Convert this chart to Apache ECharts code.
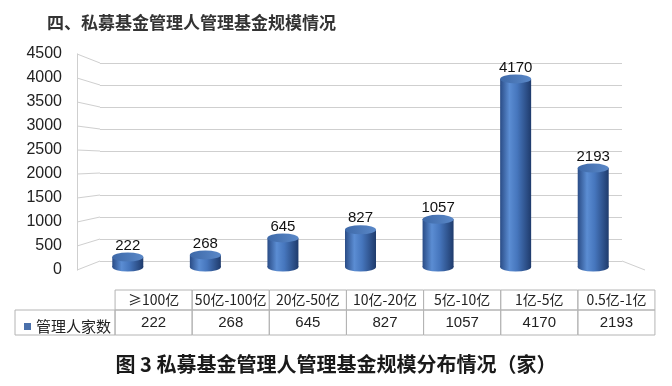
<!DOCTYPE html>
<html>
<head>
<meta charset="utf-8">
<script src="https://cdn.jsdelivr.net/npm/echarts@6/dist/echarts.min.js"></script>
<style>
html,body{margin:0;padding:0;background:#fff;}
#c{width:672px;height:386px;}
</style>
</head>
<body>
<div id="c"></div>
<script>
var categories = ['≥100亿', '50亿-100亿', '20亿-50亿', '10亿-20亿', '5亿-10亿', '1亿-5亿', '0.5亿-1亿'];
var values = [222, 268, 645, 827, 1057, 4170, 2193];
var seriesName = '管理人家数';
var yTicks = [0, 500, 1000, 1500, 2000, 2500, 3000, 3500, 4000, 4500];
var titleText = '四、私募基金管理人管理基金规模情况';
var captionText = '图 3 私募基金管理人管理基金规模分布情况（家）';

var yMin = yTicks[0], yMax = yTicks[yTicks.length - 1], yStep = yTicks[1] - yTicks[0];
var CJK = '"Noto Sans CJK SC", sans-serif';
var NUM = '"Liberation Sans", Arial, sans-serif';
var gridColor = '#cfcfcf';
var tableBorder = '#b4b4b4';

var barGrad = new echarts.graphic.LinearGradient(0, 0, 1, 0, [
  {offset: 0, color: '#2a4c86'},
  {offset: 0.3, color: '#5b8dd3'},
  {offset: 0.55, color: '#4676bd'},
  {offset: 1, color: '#1f3b6c'}
]);
var topGrad = new echarts.graphic.LinearGradient(0, 0, 1, 0, [
  {offset: 0, color: '#3e69a8'},
  {offset: 1, color: '#5a88c8'}
]);

var chart = echarts.init(document.getElementById('c'), null, {renderer: 'canvas'});

var option = {
  animation: false,
  backgroundColor: '#ffffff',
  title: [
    {text: titleText, left: 42, top: 9,
     textStyle: {fontSize: 17, fontWeight: 'bold', color: '#333', fontFamily: CJK}},
    {text: captionText, left: 'center', top: 349,
     textStyle: {fontSize: 20, fontWeight: 'bold', color: '#1a1a1a', fontFamily: CJK}}
  ],
  legend: {
    left: 19, top: 314, icon: 'rect', itemWidth: 7, itemHeight: 7, itemGap: 4,
    selectedMode: false,
    textStyle: {fontSize: 15, color: '#222', fontFamily: CJK},
    data: [{name: seriesName, itemStyle: {color: '#4a70ab'}}]
  },
  grid: [
    {left: 89, right: 40, top: 64, height: 203},
    {left: 77, width: 1, top: 54, height: 216},
    {left: 100, width: 522, top: 63, height: 198},
    {left: 115, width: 540, top: 280, height: 10}
  ],
  xAxis: [
    {type: 'category', gridIndex: 0, data: categories, show: false},
    {type: 'category', gridIndex: 1, data: categories, show: false},
    {type: 'category', gridIndex: 2, data: categories, show: false},
    {type: 'category', gridIndex: 3, data: categories, position: 'bottom',
     axisLine: {show: false}, axisTick: {show: false},
     axisLabel: {interval: 0, margin: 0, width: 77, height: 20, lineHeight: 20, padding: 0,
       borderColor: tableBorder, borderWidth: 1, align: 'center',
       fontSize: 14, color: '#222', fontFamily: CJK}},
    {type: 'category', gridIndex: 3, data: categories, position: 'bottom', offset: 20,
     axisLine: {show: false}, axisTick: {show: false},
     axisLabel: {interval: 0, margin: 0, width: 77, height: 25, lineHeight: 25, padding: 0,
       borderColor: tableBorder, borderWidth: 1, align: 'center',
       fontSize: 15, color: '#222', fontFamily: NUM,
       formatter: function (v, i) { return String(values[i]); }}}
  ],
  yAxis: [
    {type: 'value', gridIndex: 0, min: yMin, max: yMax, interval: yStep, show: false},
    {type: 'value', gridIndex: 1, min: yMin, max: yMax, interval: yStep,
     axisLine: {show: true, lineStyle: {color: gridColor}}, axisTick: {show: false},
     splitLine: {show: false},
     axisLabel: {margin: 15, fontSize: 16, color: '#222', fontFamily: NUM,
       formatter: function (v) { return String(v); }}},
    {type: 'value', gridIndex: 2, min: yMin, max: yMax, interval: yStep,
     axisLine: {show: false}, axisTick: {show: false}, axisLabel: {show: false},
     splitLine: {show: true, lineStyle: {color: gridColor, width: 1}}},
    {type: 'value', gridIndex: 3, show: false}
  ],
  series: [
    {name: 'bottomCap', type: 'pictorialBar', xAxisIndex: 0, yAxisIndex: 0,
     data: values, symbol: 'circle', symbolSize: [31, 9], symbolPosition: 'start',
     symbolOffset: [0, '50%'], itemStyle: {color: barGrad}, z: 1, silent: true},
    {name: seriesName, type: 'bar', xAxisIndex: 0, yAxisIndex: 0, data: values,
     barWidth: 31, itemStyle: {color: barGrad}, z: 2,
     label: {show: true, position: 'top', distance: 4, fontSize: 15, color: '#111', fontFamily: NUM}},
    {name: 'topCap', type: 'pictorialBar', xAxisIndex: 0, yAxisIndex: 0,
     data: values, symbol: 'circle', symbolSize: [31, 9], symbolPosition: 'end',
     symbolOffset: [0, '-50%'], itemStyle: {color: topGrad}, z: 3, silent: true}
  ]
};
chart.setOption(option);

// left-wall perspective connectors and floor edges, derived from the axes' scales
var gfx = [];
var frontX = chart.convertToPixel({gridIndex: 1}, [0, 0])[0];
var g2 = chart.getModel().getComponent('grid', 2).coordinateSystem.getRect();
yTicks.forEach(function (v) {
  var yf = chart.convertToPixel({yAxisIndex: 1}, v);
  var yb = chart.convertToPixel({yAxisIndex: 2}, v);
  gfx.push({type: 'line', silent: true, z: -1,
    shape: {x1: frontX, y1: yf, x2: g2.x, y2: yb},
    style: {stroke: gridColor, lineWidth: 1}});
});
var yb0 = chart.convertToPixel({yAxisIndex: 2}, yMin);
var yf0 = chart.convertToPixel({yAxisIndex: 1}, yMin);
gfx.push({type: 'line', silent: true, z: -1,
  shape: {x1: g2.x + g2.width, y1: yb0, x2: g2.x + g2.width + 23, y2: yf0},
  style: {stroke: gridColor, lineWidth: 1}});
// row-header cell of the data table
gfx.push({type: 'rect', silent: true,
  shape: {x: 15, y: 310, width: 100, height: 25},
  style: {fill: 'none', stroke: tableBorder, lineWidth: 1}});
chart.setOption({graphic: gfx});
</script>
</body>
</html>
